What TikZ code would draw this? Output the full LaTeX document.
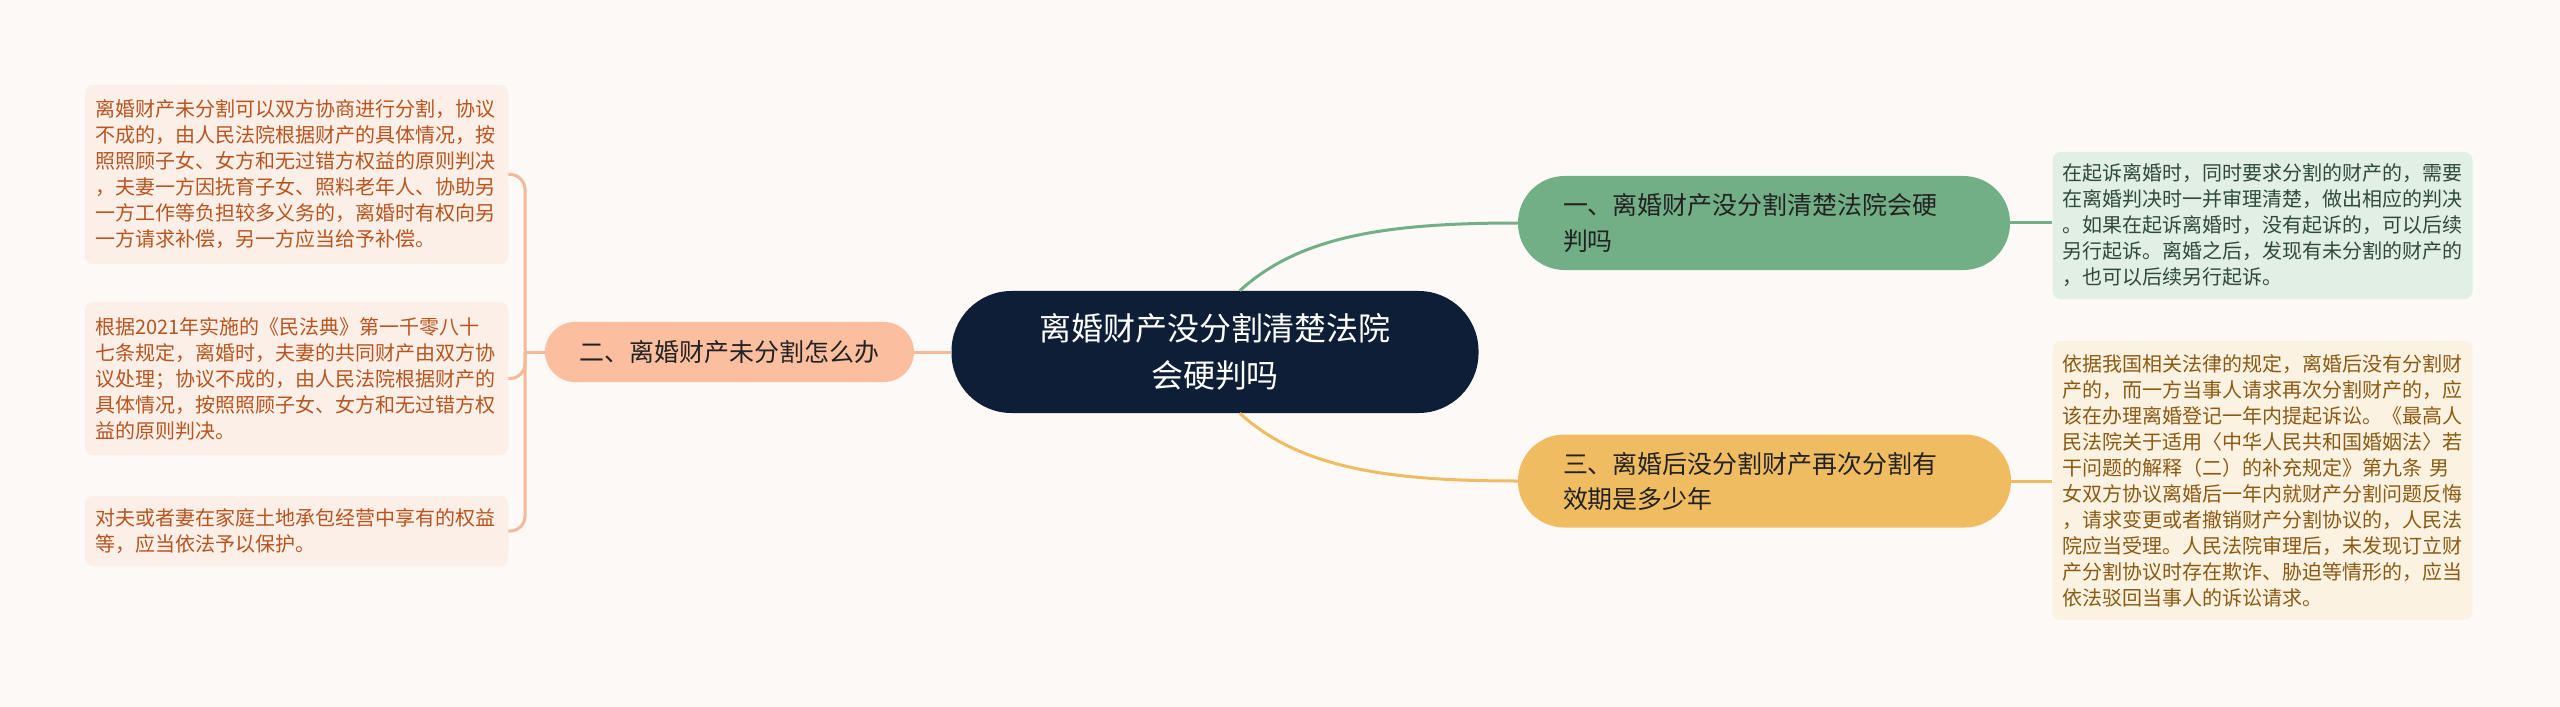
\documentclass[tikz,border=0pt]{standalone}
\usepackage{fontspec}
\setmainfont{Noto Sans CJK SC}
\definecolor{bg}{HTML}{FCF9F7}
\definecolor{navy}{HTML}{0E1E36}
\definecolor{gfill}{HTML}{72AF86}
\definecolor{yfill}{HTML}{F0BC62}
\definecolor{pfill}{HTML}{FBBF9F}
\definecolor{pline}{HTML}{F5B899}
\definecolor{lfill}{HTML}{FCEFE7}
\definecolor{ltext}{HTML}{B9541F}
\definecolor{r1fill}{HTML}{E2EFE5}
\definecolor{r1text}{HTML}{2F4A38}
\definecolor{r3fill}{HTML}{FCF2E1}
\definecolor{r3text}{HTML}{8B5A14}
\definecolor{btext}{HTML}{222222}
\begin{document}
\begin{tikzpicture}[x=0.03cm,y=-0.03cm,
  leaf/.style={rounded corners=0.24cm, font=\fontsize{17.07pt}{22.2pt}\selectfont,
    align=left, text width=12.06cm, inner xsep=0.32cm, inner ysep=0pt},
  leafL/.style={leaf, fill=lfill, text=ltext},
  leafR1/.style={leaf, fill=r1fill, text=r1text},
  leafR3/.style={leaf, fill=r3fill, text=r3text},
  branch/.style={font=\fontsize{21.3pt}{29.9pt}\selectfont, text=btext, inner ysep=0pt},
  cnode/.style={fill=navy, text=white, rounded corners=1.8cm, align=center,
    font=\fontsize{27.3pt}{40.1pt}\selectfont, inner ysep=0pt},
  conn/.style={line width=0.09cm},
]
\fill[bg] (0,0) rectangle (2560,707);
\useasboundingbox (0,0) rectangle (2560,707);

% central
\node[cnode, minimum width=15.81cm, minimum height=3.66cm] (c) at (1215,352)
  {离婚财产没分割清楚法院\\会硬判吗};

% branches
\node[branch, fill=gfill, rounded corners=1.4cm, align=left, text width=12.06cm,
  inner xsep=1.35cm, minimum height=2.82cm] (b1) at (1764,223)
  {一、离婚财产没分割清楚法院会硬\\判吗};
\node[branch, fill=yfill, rounded corners=1.39cm, align=left, text width=12.09cm,
  inner xsep=1.35cm, minimum height=2.79cm] (b3) at (1764.5,481)
  {三、离婚后没分割财产再次分割有\\效期是多少年};
\node[branch, fill=pfill, rounded corners=0.9cm, minimum width=11.07cm,
  minimum height=1.8cm] (b2) at (729.5,352) {二、离婚财产未分割怎么办};

% right leaves
\node[leafR1, minimum height=4.41cm, text width=12.0cm, inner xsep=0.3cm] (r1) at (2262.5,225.5)
  {在起诉离婚时，同时要求分割的财产的，需要\\
   在离婚判决时一并审理清楚，做出相应的判决\\
   。如果在起诉离婚时，没有起诉的，可以后续\\
   另行起诉。离婚之后，发现有未分割的财产的\\
   ，也可以后续另行起诉。};
\node[leafR3, minimum height=8.37cm, text width=12.0cm, inner xsep=0.3cm] (r3) at (2262.5,480.5)
  {依据我国相关法律的规定，离婚后没有分割财\\
   产的，而一方当事人请求再次分割财产的，应\\
   该在办理离婚登记一年内提起诉讼。《最高人\\
   民法院关于适用〈中华人民共和国婚姻法〉若\\
   干问题的解释（二）的补充规定》第九条 男\\
   女双方协议离婚后一年内就财产分割问题反悔\\
   ，请求变更或者撤销财产分割协议的，人民法\\
   院应当受理。人民法院审理后，未发现订立财\\
   产分割协议时存在欺诈、胁迫等情形的，应当\\
   依法驳回当事人的诉讼请求。};

% left leaves
\node[leafL, minimum height=5.37cm] (l1) at (296.5,174.5)
  {离婚财产未分割可以双方协商进行分割，协议\\
   不成的，由人民法院根据财产的具体情况，按\\
   照照顾子女、女方和无过错方权益的原则判决\\
   ，夫妻一方因抚育子女、照料老年人、协助另\\
   一方工作等负担较多义务的，离婚时有权向另\\
   一方请求补偿，另一方应当给予补偿。};
\node[leafL, minimum height=4.59cm] (l2) at (296.5,378.5)
  {根据2021年实施的《民法典》第一千零八十\\
   七条规定，离婚时，夫妻的共同财产由双方协\\
   议处理；协议不成的，由人民法院根据财产的\\
   具体情况，按照照顾子女、女方和无过错方权\\
   益的原则判决。};
\node[leafL, minimum height=2.1cm] (l3) at (296.5,531)
  {对夫或者妻在家庭土地承包经营中享有的权益\\
   等，应当依法予以保护。};

% connectors
\draw[conn, gfill] (c.68) .. controls +(60,-55) and +(-130,0) .. (b1.west);
\draw[conn, yfill] (c.-68) .. controls +(60,55) and +(-130,0) .. (b3.west);
\draw[conn, pline] (c.west) -- (b2.east);
\draw[conn, gfill] (b1.east) -- (r1.west |- b1.east);
\draw[conn, yfill] (b3.east) -- (r3.west |- b3.east);

\coordinate (J) at (525,352);
\draw[conn, pline] (b2.west) -- (J);
\draw[conn, pline, rounded corners=0.45cm] (J) |- (l1.east);
\draw[conn, pline, rounded corners=0.45cm] (J) |- (l2.east);
\draw[conn, pline, rounded corners=0.45cm] (J) |- (l3.east);
\end{tikzpicture}
\end{document}
